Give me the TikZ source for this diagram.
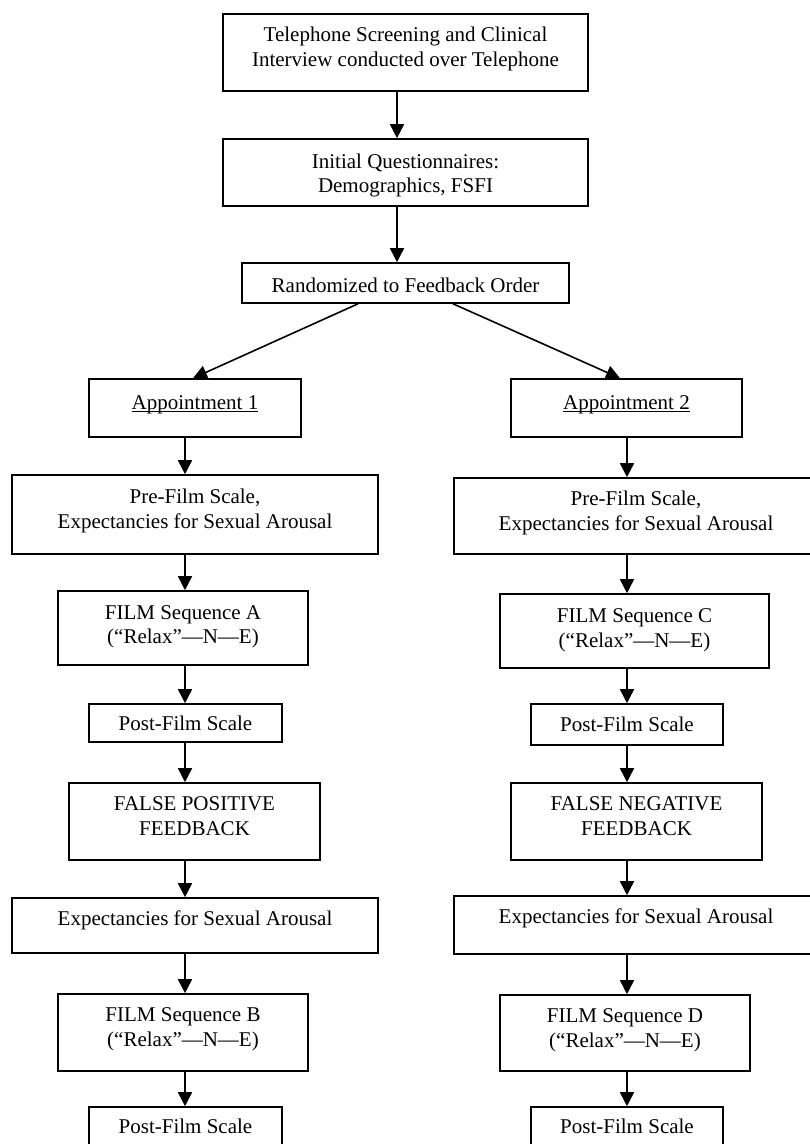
\documentclass[tikz,border=0pt]{standalone}
\usepackage{fontspec}
\setmainfont{Liberation Serif}
\usetikzlibrary{arrows.meta,calc}
\newcommand\myul[1]{\setbox0\hbox{#1}\rlap{\rule[-2.6pt]{\wd0}{1.1pt}}\box0}
\tikzset{
  box/.style={draw, line width=1.6pt, rectangle, inner sep=0pt},
  txt/.style={inner sep=0pt, align=center, font=\fontsize{21}{24.5}\selectfont},
  arr/.style={line width=1.6pt, -{Triangle[length=14pt,width=14pt]}},
}
\begin{document}
\begin{tikzpicture}[x=1pt,y=-1pt]
\useasboundingbox (0,0) rectangle (810,1144);
\clip (0,0) rectangle (810,1144);
\coordinate (colT) at (397,0);
\coordinate (colL) at (185,0);
\coordinate (colR) at (627,0);
% top
\node[box, minimum width=365pt, minimum height=77pt] (b1) at (405.5,52.5) {};
\node[txt] (t1) at (405.5,49.3) {\strut Telephone Screening and Clinical\\\strut Interview conducted over Telephone};
\node[box, minimum width=365pt, minimum height=67pt] (b2) at (405.5,172.5) {};
\node[txt] (t2) at (405.5,175.6) {\strut Initial Questionnaires:\\\strut Demographics, FSFI};
\node[box, minimum width=327pt, minimum height=40pt] (b3) at (405.5,283) {};
\node[txt, anchor=base] (t3) at (405.5,292.7) {Randomized to Feedback Order};
% left column
\node[box, minimum width=212pt, minimum height=58pt] (ap1) at (195,408) {};
\node[txt, anchor=base] (tap1) at (195,409) {\myul{Appointment 1}};
\node[box, minimum width=366pt, minimum height=79pt] (pfL) at (195,514.5) {};
\node[txt] (tpfL) at (195,510.9) {\strut Pre-Film Scale,\\\strut Expectancies for Sexual Arousal};
\node[box, minimum width=250pt, minimum height=74pt] (faL) at (183,628) {};
\node[txt] (tfaL) at (183,626.6) {\strut FILM Sequence A\\\strut (“Relax”—N—E)};
\node[box, minimum width=193pt, minimum height=38pt] (poL) at (185.5,723) {};
\node[txt, anchor=base] (tpoL) at (185.5,730) {Post-Film Scale};
\node[box, minimum width=251pt, minimum height=77pt] (fpL) at (194.5,821.5) {};
\node[txt] (tfpL) at (194.5,817.9) {\strut FALSE POSITIVE\\\strut FEEDBACK};
\node[box, minimum width=366pt, minimum height=55pt] (exL) at (195,925.5) {};
\node[txt, anchor=base] (texL) at (195,925) {Expectancies for Sexual Arousal};
\node[box, minimum width=250pt, minimum height=77pt] (fbL) at (183,1032.5) {};
\node[txt] (tfbL) at (183,1029.3) {\strut FILM Sequence B\\\strut (“Relax”—N—E)};
\node[box, minimum width=193pt, minimum height=53pt] (po2L) at (185.5,1133.5) {};
\node[txt, anchor=base] (tpo2L) at (185.5,1133) {Post-Film Scale};
% right column
\node[box, minimum width=231pt, minimum height=58pt] (ap2) at (626.5,408) {};
\node[txt, anchor=base] (tap2) at (626.5,409) {\myul{Appointment 2}};
\node[box, minimum width=364pt, minimum height=76pt] (pfR) at (636,516) {};
\node[txt] (tpfR) at (636,512.9) {\strut Pre-Film Scale,\\\strut Expectancies for Sexual Arousal};
\node[box, minimum width=269pt, minimum height=74pt] (fcR) at (634.5,631) {};
\node[txt] (tfcR) at (634.5,629.9) {\strut FILM Sequence C\\\strut (“Relax”—N—E)};
\node[box, minimum width=192pt, minimum height=41pt] (poR) at (627,724.5) {};
\node[txt, anchor=base] (tpoR) at (627,731) {Post-Film Scale};
\node[box, minimum width=251pt, minimum height=77pt] (fnR) at (636.5,821.5) {};
\node[txt] (tfnR) at (636.5,818.3) {\strut FALSE NEGATIVE\\\strut FEEDBACK};
\node[box, minimum width=364pt, minimum height=58pt] (exR) at (636,925) {};
\node[txt, anchor=base] (texR) at (636,923.3) {Expectancies for Sexual Arousal};
\node[box, minimum width=250pt, minimum height=76pt] (fdR) at (625,1033) {};
\node[txt] (tfdR) at (625,1030.1) {\strut FILM Sequence D\\\strut (“Relax”—N—E)};
\node[box, minimum width=192pt, minimum height=53pt] (po2R) at (627,1133.5) {};
\node[txt, anchor=base] (tpo2R) at (627,1133) {Post-Film Scale};
% arrows top
\draw[arr] (b1.south -| colT) -- (b2.north -| colT);
\draw[arr] (b2.south -| colT) -- (b3.north -| colT);
\draw[arr] ($(b3.south)+(-47.5,0)$) -- ($(ap1.north)+(-2,0)$);
\draw[arr] ($(b3.south)+(47.5,0)$) -- ($(ap2.north)+(-6.5,0)$);
% arrows left
\draw[arr] (ap1.south -| colL) -- (pfL.north -| colL);
\draw[arr] (pfL.south -| colL) -- (faL.north -| colL);
\draw[arr] (faL.south -| colL) -- (poL.north -| colL);
\draw[arr] (poL.south -| colL) -- (fpL.north -| colL);
\draw[arr] (fpL.south -| colL) -- (exL.north -| colL);
\draw[arr] (exL.south -| colL) -- (fbL.north -| colL);
\draw[arr] (fbL.south -| colL) -- (po2L.north -| colL);
% arrows right
\draw[arr] (ap2.south -| colR) -- (pfR.north -| colR);
\draw[arr] (pfR.south -| colR) -- (fcR.north -| colR);
\draw[arr] (fcR.south -| colR) -- (poR.north -| colR);
\draw[arr] (poR.south -| colR) -- (fnR.north -| colR);
\draw[arr] (fnR.south -| colR) -- (exR.north -| colR);
\draw[arr] (exR.south -| colR) -- (fdR.north -| colR);
\draw[arr] (fdR.south -| colR) -- (po2R.north -| colR);
\end{tikzpicture}
\end{document}
